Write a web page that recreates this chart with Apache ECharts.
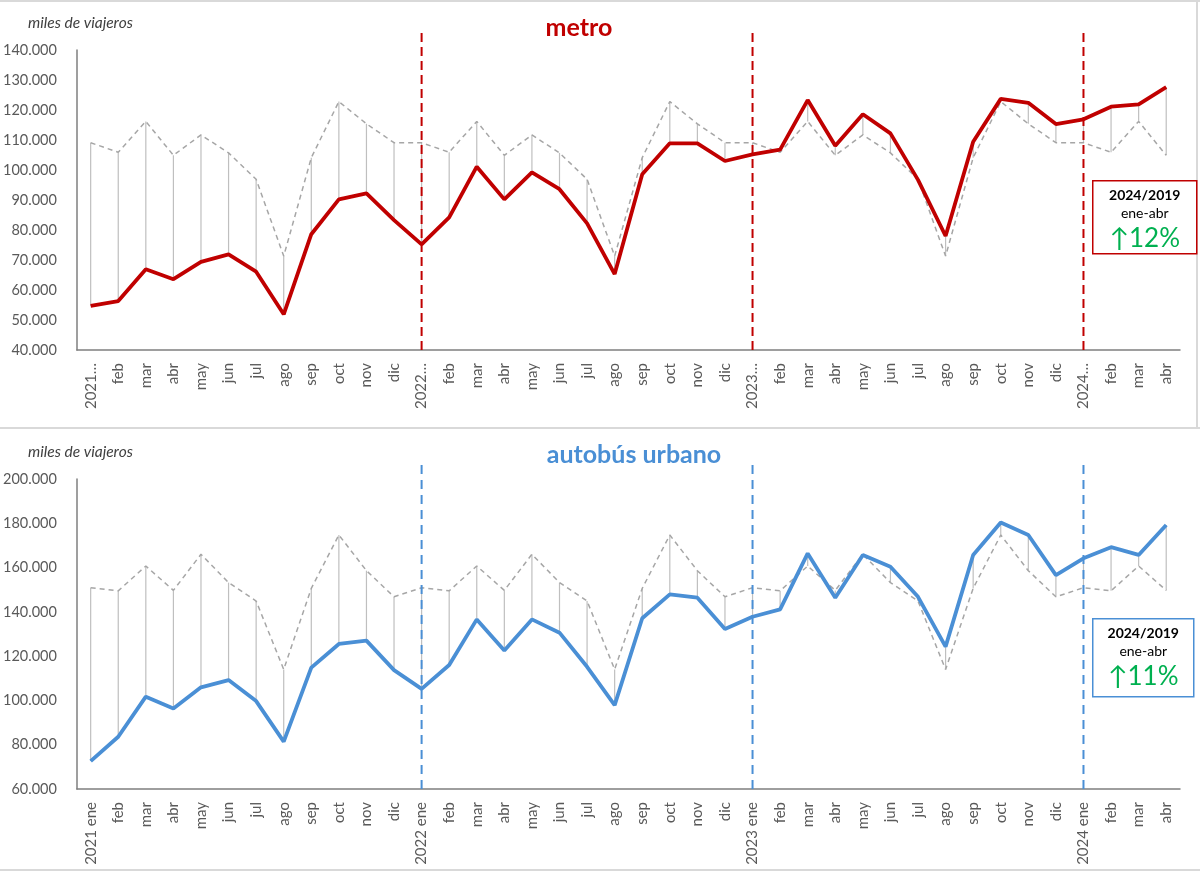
<!DOCTYPE html>
<html><head><meta charset="utf-8">
<script src="https://cdn.jsdelivr.net/npm/echarts@6/dist/echarts.min.js"></script>
<style>html,body{margin:0;padding:0;background:#fff}#c{width:1200px;height:874px}</style>
</head><body><div id="c"></div><script>
// ---- data (miles de viajeros) ----
const months = ['ene','feb','mar','abr','may','jun','jul','ago','sep','oct','nov','dic'];
const years = ['2021','2022','2023','2024'];
const monthsPerYear = [12, 12, 12, 4];
const metroYearLabels = ['2021…','2022…','2023…','2024…'];
const busYearLabels = ['2021 ene','2022 ene','2023 ene','2024 ene'];

const metro = [
  54700, 56300, 66900, 63600, 69400, 71900, 66100, 51900, 78600, 90200, 92200, 83300,
  75200, 84200, 101100, 90200, 99200, 93600, 82200, 65300, 98600, 108900, 108900, 103000,
  105200, 106800, 123300, 108100, 118600, 112200, 96700, 78000, 109400, 123700, 122400, 115300,
  116900, 121100, 121900, 127600
];
const metro2019 = [109100, 105900, 116200, 104900, 111700, 105700, 96900, 71300, 104100, 122800, 115400, 109100];

const bus = [
  72600, 83600, 101700, 96400, 105900, 109200, 99700, 81400, 114800, 125500, 127000, 113700,
  105200, 116000, 136600, 122500, 136600, 130600, 115200, 97900, 137100, 147900, 146400, 132300,
  137800, 141100, 166400, 146400, 165700, 160400, 146800, 124300, 165700, 180400, 174700, 156600,
  164200, 169200, 165700, 179200
];
const bus2019 = [150900, 149500, 160700, 149700, 166000, 153200, 144900, 114000, 150600, 174700, 158600, 146800];

const metroAxis = {min: 40000, max: 140000, interval: 10000};
const busAxis = {min: 60000, max: 200000, interval: 20000};

const metroBox = ['2024/2019', 'ene-abr', '↑12%'];
const busBox = ['2024/2019', 'ene-abr', '↑11%'];

// ---- derived ----
const monthIdx = [];
const yearOfCat = [];
years.forEach((y, yi) => { for (let m = 0; m < monthsPerYear[yi]; m++) { monthIdx.push(m); yearOfCat.push(yi); } });
const metroLabels = monthIdx.map((m, i) => m === 0 ? metroYearLabels[yearOfCat[i]] : months[m]);
const busLabels = monthIdx.map((m, i) => m === 0 ? busYearLabels[yearOfCat[i]] : months[m]);
const metroRef = monthIdx.map(m => metro2019[m]);
const busRef = monthIdx.map(m => bus2019[m]);
const yearStarts = monthIdx.map((m, i) => (m === 0 && i > 0) ? [i] : null).filter(Boolean);

const RED = '#C00000', BLUE = '#4A8FD5', GREEN = '#00B050';
const FONT = 'Lato';
const fmt = v => String(v).replace(/\B(?=(\d{3})+(?!\d))/g, '.');

function dropSeries(gi, act, ref) {
  return {
    type: 'custom', xAxisIndex: gi, yAxisIndex: gi, z: 1, silent: true,
    data: act.map((v, i) => [i, ref[i], v]),
    encode: {x: 0, y: [1, 2]},
    renderItem: (p, api) => {
      const a = api.coord([api.value(0), api.value(1)]);
      const b = api.coord([api.value(0), api.value(2)]);
      return {type: 'line', shape: {x1: a[0], y1: a[1], x2: b[0], y2: b[1]},
        style: {stroke: '#BFBFBF', lineWidth: 1.2}};
    }
  };
}
function yearMarkers(gi, ax, color, dash, ext) {
  return {
    type: 'custom', xAxisIndex: gi, yAxisIndex: gi, z: 5, silent: true, clip: false,
    data: yearStarts,
    renderItem: (p, api) => {
      const bot = api.coord([api.value(0), ax.min]);
      const top = api.coord([api.value(0), ax.max]);
      return {type: 'line', shape: {x1: bot[0], y1: bot[1], x2: bot[0], y2: top[1] - ext},
        style: {stroke: color, lineWidth: 2, lineDash: dash}};
    }
  };
}
function xAxis(gi, labels) {
  return {
    type: 'category', gridIndex: gi, data: labels, boundaryGap: true,
    axisLine: {lineStyle: {color: '#7F7F7F', width: 1.5}},
    axisTick: {show: false},
    axisLabel: {interval: 0, rotate: 90, margin: 13, color: '#595959', fontFamily: FONT, fontSize: 15}
  };
}
function yAxis(gi, ax) {
  return {
    type: 'value', gridIndex: gi, min: ax.min, max: ax.max, interval: ax.interval,
    axisLine: {show: true, lineStyle: {color: '#7F7F7F', width: 1.5}},
    axisTick: {show: false}, splitLine: {show: false},
    axisLabel: {margin: 20, color: '#595959', fontFamily: FONT, fontSize: 14.5, formatter: fmt}
  };
}
function box(x, y, w, h, color, lines) {
  return {
    type: 'group', left: x, top: y, children: [
      {type: 'rect', shape: {x: 0, y: 0, width: w, height: h}, style: {fill: '#fff', stroke: color, lineWidth: 1.5}},
      {type: 'text', x: w / 2, y: 15, style: {text: lines[0], align: 'center', verticalAlign: 'middle', font: 'bold 14px Lato', fill: '#000'}},
      {type: 'text', x: w / 2, y: 33, style: {text: lines[1], align: 'center', verticalAlign: 'middle', font: '14px Lato', fill: '#000'}},
      {type: 'text', x: w / 2, y: 58, style: {text: lines[2], align: 'center', verticalAlign: 'middle', font: '26px Lato', fill: GREEN}}
    ]
  };
}

const chart = echarts.init(document.getElementById('c'), null, {renderer: 'canvas'});
chart.setOption({
  animation: false,
  backgroundColor: '#fff',
  grid: [
    {left: 75, right: 20, top: 50, height: 300},
    {left: 75, right: 20, top: 479, height: 310}
  ],
  xAxis: [xAxis(0, metroLabels), xAxis(1, busLabels)],
  yAxis: [yAxis(0, metroAxis), yAxis(1, busAxis)],
  series: [
    dropSeries(0, metro, metroRef),
    {type: 'line', xAxisIndex: 0, yAxisIndex: 0, data: metroRef, symbol: 'none', z: 2,
      lineStyle: {color: '#A6A6A6', width: 1.5, type: [5, 4]}},
    {type: 'line', xAxisIndex: 0, yAxisIndex: 0, data: metro, symbol: 'none', z: 4,
      lineStyle: {color: RED, width: 3.8}},
    yearMarkers(0, metroAxis, RED, [9, 5], 18),
    dropSeries(1, bus, busRef),
    {type: 'line', xAxisIndex: 1, yAxisIndex: 1, data: busRef, symbol: 'none', z: 2,
      lineStyle: {color: '#A6A6A6', width: 1.5, type: [5, 4]}},
    {type: 'line', xAxisIndex: 1, yAxisIndex: 1, data: bus, symbol: 'none', z: 4,
      lineStyle: {color: BLUE, width: 3.8}},
    yearMarkers(1, busAxis, BLUE, [9, 6], 18)
  ],
  graphic: [
    {type: 'rect', shape: {x: 0, y: 0, width: 1200, height: 2}, style: {fill: '#D9D9D9'}, silent: true},
    {type: 'rect', shape: {x: 0, y: 427, width: 1200, height: 2}, style: {fill: '#D9D9D9'}, silent: true},
    {type: 'rect', shape: {x: 0, y: 869, width: 1200, height: 2}, style: {fill: '#D9D9D9'}, silent: true},
    {type: 'rect', shape: {x: 1196, y: 0, width: 2, height: 428}, style: {fill: '#D9D9D9'}, silent: true},
    {type: 'text', x: 579, y: 28, style: {text: 'metro', align: 'center', verticalAlign: 'middle', font: 'bold 25px Lato', fill: RED}},
    {type: 'text', x: 634, y: 455, style: {text: 'autobús urbano', align: 'center', verticalAlign: 'middle', font: 'bold 25px Lato', fill: BLUE}},
    {type: 'text', x: 28, y: 23, style: {text: 'miles de viajeros', verticalAlign: 'middle', font: 'italic 15.5px Lato', fill: '#404040'}},
    {type: 'text', x: 28, y: 452, style: {text: 'miles de viajeros', verticalAlign: 'middle', font: 'italic 15.5px Lato', fill: '#404040'}},
    box(1092, 180, 104, 73, RED, metroBox),
    box(1092, 618, 101, 78, BLUE, busBox)
  ]
});
</script></body></html>
